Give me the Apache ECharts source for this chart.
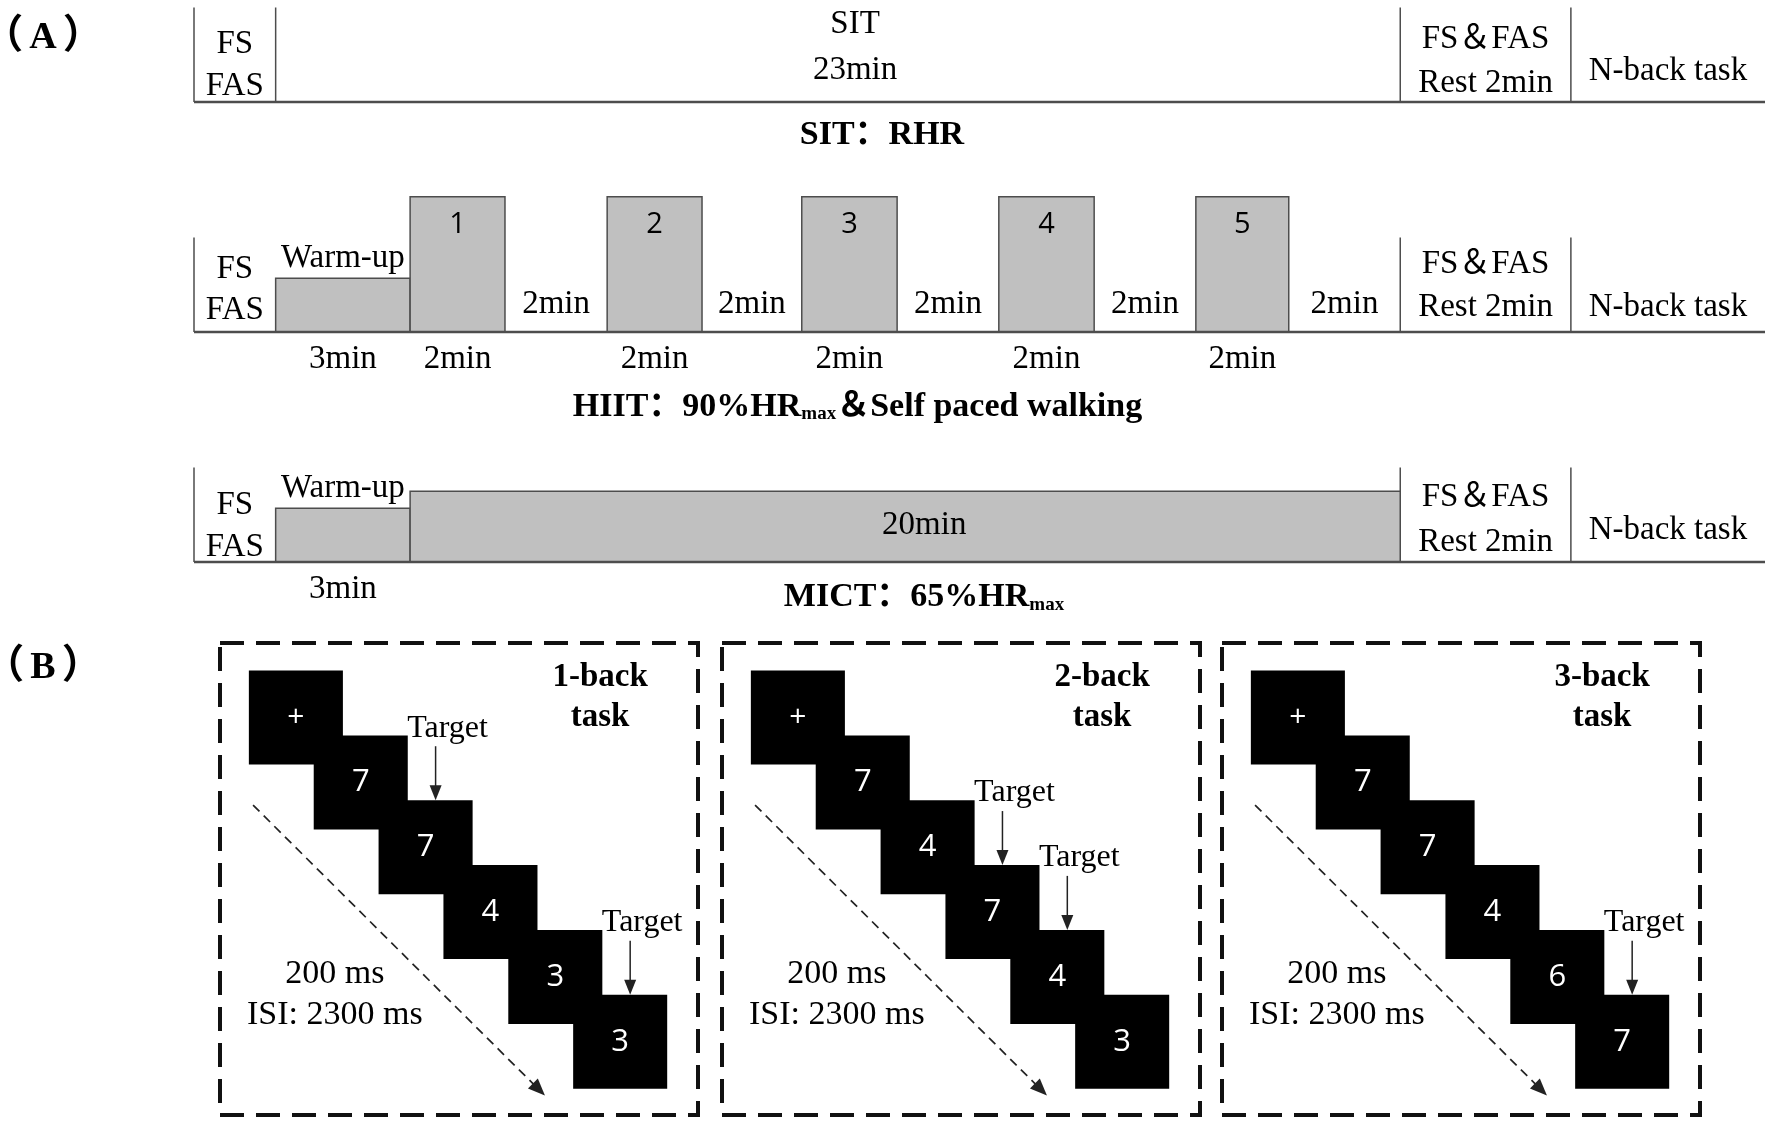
<!DOCTYPE html>
<html>
<head>
<meta charset="utf-8">
<title>Exercise protocol and n-back task</title>
<script src="https://cdn.jsdelivr.net/npm/echarts@6/dist/echarts.min.js"></script>
<style>
  html, body { margin: 0; padding: 0; background: #fff; }
  #main { width: 1772px; height: 1127px; }
</style>
</head>
<body>
<div id="main"></div>
<script>
// ---------- (A) session timelines, x in minutes from start of exercise ----------
var preCell = [-1.67, 0];            // FS / FAS rating before the session
var sitPhase = [0, 23];
var restCell = [23, 26.49];          // FS & FAS, rest 2 min
var nbackCell = [26.49, 30.46];      // N-back task
var warmUp = [0, 2.75];
var hiitBouts = [[2.75, 4.69], [6.78, 8.72], [10.76, 12.71], [14.79, 16.74], [18.82, 20.72]];
var hiitRecovery = [[4.69, 6.78], [8.72, 10.76], [12.71, 14.79], [16.74, 18.82], [20.72, 23]];
var mictBout = [2.75, 23];
var warmUpLevel = 0.57;              // relative intensity (height) of each block
var hiitLevel = 1.43;
var mictLevel = 0.75;
var boutNames = ['1', '2', '3', '4', '5'];
var sitLabels = ['SIT', '23min'];
var warmUpLabels = ['Warm-up', '3min'];
var boutLength = '2min';
var mictLength = '20min';
var preLabels = ['FS', 'FAS'];
var restLabels = ['FS＆FAS', 'Rest 2min'];
var taskLabel = 'N-back task';
var rowTitles = [['SIT：RHR'], ['HIIT：90%HR', 'max', '＆Self paced walking'], ['MICT：65%HR', 'max']];

// ---------- (B) n-back tasks ----------
var nbackNames = ['1-back', '2-back', '3-back'];
var nbackStimuli = [
    ['+', '7', '7', '4', '3', '3'],
    ['+', '7', '4', '7', '4', '3'],
    ['+', '7', '7', '4', '6', '7']
];
var nbackTargets = [[2, 5], [3, 4], [5]];
var timingLabels = ['200 ms', 'ISI: 2300 ms'];

// ---------- layout ----------
var SERIF = "'Liberation Serif', 'Times New Roman', 'Noto Sans CJK SC', serif";
var SANS = "'Open Sans', 'Liberation Sans', sans-serif";
var LINE = '#4d4d4d';
var FILL = '#c0c0c0';
var rowBase = [102, 332, 562];
var LEVEL_PX = 94.5;
var titleX = [12.4, 11.9, 13.26];
var titleY = [-0.32, -0.76, -0.34];
var panelLeft = [220, 722, 1222];
var stepX = [-1.17, 6.2], stepY = [-1.15, 6.13];
var HALF = 0.725;

function mid(r) { return (r[0] + r[1]) / 2; }
function line(x0, y0, x1, y1, o) { return Object.assign({kind: 'line', x0: x0, y0: y0, x1: x1, y1: y1}, o || {}); }
function box(x0, y0, x1, y1, o) { return Object.assign({kind: 'box', x0: x0, y0: y0, x1: x1, y1: y1}, o || {}); }
function text(x, y, t, o) { return Object.assign({kind: 'text', x: x, y: y, text: t}, o || {}); }

function titleText(parts) {
    var s = '{b|' + parts[0] + '}';
    if (parts[1]) s += '{s|' + parts[1] + '}';
    if (parts[2]) s += '{b|' + parts[2] + '}';
    return s;
}
var titleRich = {
    b: {fontSize: 34, fontWeight: 'bold', fontFamily: SERIF, lineHeight: 40, verticalAlign: 'bottom'},
    s: {fontSize: 19, fontWeight: 'bold', fontFamily: SERIF, lineHeight: 24, verticalAlign: 'bottom'}
};

function commonCells(shapes, preY, restY, taskY) {
    shapes.push(text(mid(preCell), preY[0], preLabels[0]), text(mid(preCell), preY[1], preLabels[1]));
    shapes.push(text(mid(restCell), restY[0], restLabels[0]), text(mid(restCell), restY[1], restLabels[1]));
    shapes.push(text(mid(nbackCell), taskY, taskLabel));
}

function rowFrame(shapes, withStartLine) {
    var xs = [preCell[0], restCell[0], restCell[1]];
    if (withStartLine) xs.push(preCell[1]);
    xs.forEach(function (x) { shapes.push(line(x, 0, x, 1, {lw: 1.5})); });
}

// SIT row
var sitShapes = [];
rowFrame(sitShapes, true);
sitShapes.push(text(mid(sitPhase) + 0.35, 0.82, sitLabels[0]), text(mid(sitPhase) + 0.35, 0.34, sitLabels[1]));
commonCells(sitShapes, [0.61, 0.17], [0.66, 0.2], 0.32);
sitShapes.push(line(preCell[0], 0, nbackCell[1], 0, {lw: 2.5}));
sitShapes.push(text(titleX[0], titleY[0], titleText(rowTitles[0]), {rich: titleRich}));

// HIIT row
var hiitShapes = [];
rowFrame(hiitShapes, false);
hiitShapes.push(box(warmUp[0], 0, warmUp[1], warmUpLevel, {fill: FILL, stroke: LINE, lw: 1.5}));
hiitBouts.forEach(function (b, i) {
    hiitShapes.push(box(b[0], 0, b[1], hiitLevel, {fill: FILL, stroke: LINE, lw: 1.5}));
    hiitShapes.push(text(mid(b), hiitLevel - 0.3, boutNames[i], {family: SANS, size: 29}));
    hiitShapes.push(text(mid(b), -0.29, boutLength));
});
hiitRecovery.forEach(function (r) { hiitShapes.push(text(mid(r), 0.29, boutLength)); });
hiitShapes.push(text(mid(warmUp), warmUpLevel + 0.21, warmUpLabels[0]), text(mid(warmUp), -0.29, warmUpLabels[1]));
commonCells(hiitShapes, [0.66, 0.23], [0.72, 0.26], 0.26);
hiitShapes.push(line(preCell[0], 0, nbackCell[1], 0, {lw: 2.5}));
hiitShapes.push(text(titleX[1], titleY[1], titleText(rowTitles[1]), {rich: titleRich}));

// MICT row
var mictShapes = [];
rowFrame(mictShapes, false);
mictShapes.push(box(warmUp[0], 0, warmUp[1], warmUpLevel, {fill: FILL, stroke: LINE, lw: 1.5}));
mictShapes.push(box(mictBout[0], 0, mictBout[1], mictLevel, {fill: FILL, stroke: LINE, lw: 1.5}));
mictShapes.push(text(mid(mictBout) + 0.39, 0.39, mictLength));
mictShapes.push(text(mid(warmUp), warmUpLevel + 0.21, warmUpLabels[0]), text(mid(warmUp), -0.29, warmUpLabels[1]));
commonCells(mictShapes, [0.6, 0.15], [0.68, 0.21], 0.33);
mictShapes.push(line(preCell[0], 0, nbackCell[1], 0, {lw: 2.5}));
mictShapes.push(text(titleX[2], titleY[2], titleText(rowTitles[2]), {rich: titleRich}));

// n-back panels
function panelShapes(j) {
    var s = [];
    s.push(box(stepX[0], stepY[0], stepX[1], stepY[1], {stroke: '#111', lw: 4, dash: [24, 12]}));
    s.push(line(-0.66, 1.35, 3.84, 5.83, {stroke: '#222', lw: 1.7, dash: [9, 6], head: [17, 14]}));
    nbackStimuli[j].forEach(function (v, i) {
        s.push(box(i - HALF, i - HALF, i + HALF, i + HALF, {fill: '#000'}));
        s.push(text(i, i, v, {fill: '#fff', family: SANS, size: v === '+' ? 30 : 31}));
    });
    nbackTargets[j].forEach(function (t) {
        s.push(line(t, t - HALF, t, t - HALF, {ox0: 10, oy0: -54, ox1: 10, oy1: 0, stroke: '#222', lw: 1.5, head: [15, 12]}));
        s.push(text(t, t - HALF, 'Target', {ox: 22, oy: -72, size: 32}));
    });
    s.push(text(4.69, -0.625, nbackNames[j], {weight: 'bold'}), text(4.69, 0, 'task', {weight: 'bold'}));
    s.push(text(0.6, 3.96, timingLabels[0], {size: 34}), text(0.6, 4.59, timingLabels[1], {size: 34}));
    return s;
}

function drawShape(s, api) {
    if (s.kind === 'box') {
        var a = api.coord([s.x0, s.y0]), b = api.coord([s.x1, s.y1]);
        var st = {fill: s.fill || 'none', stroke: s.stroke || 'none', lineWidth: s.lw || 0};
        if (s.dash) st.lineDash = s.dash;
        return {
            type: 'rect',
            shape: {x: Math.min(a[0], b[0]), y: Math.min(a[1], b[1]), width: Math.abs(b[0] - a[0]), height: Math.abs(b[1] - a[1])},
            style: st
        };
    }
    if (s.kind === 'line') {
        var p = api.coord([s.x0, s.y0]), q = api.coord([s.x1, s.y1]);
        var x1 = p[0] + (s.ox0 || 0), y1 = p[1] + (s.oy0 || 0);
        var x2 = q[0] + (s.ox1 || 0), y2 = q[1] + (s.oy1 || 0);
        var color = s.stroke || LINE;
        var ls = {stroke: color, lineWidth: s.lw || 1.5};
        if (s.dash) ls.lineDash = s.dash;
        var kids = [];
        if (s.head) {
            var dx = x2 - x1, dy = y2 - y1, len = Math.sqrt(dx * dx + dy * dy);
            var ux = dx / len, uy = dy / len, L = s.head[0], W = s.head[1] / 2;
            kids.push({type: 'line', shape: {x1: x1, y1: y1, x2: x2 - ux * L * 0.6, y2: y2 - uy * L * 0.6}, style: ls});
            kids.push({
                type: 'polygon',
                shape: {points: [[x2, y2], [x2 - ux * L - uy * W, y2 - uy * L + ux * W], [x2 - ux * L + uy * W, y2 - uy * L - ux * W]]},
                style: {fill: color}
            });
        } else {
            kids.push({type: 'line', shape: {x1: x1, y1: y1, x2: x2, y2: y2}, style: ls});
        }
        return {type: 'group', children: kids};
    }
    var c = api.coord([s.x, s.y]);
    var ts = {
        text: s.text, fill: s.fill || '#000', fontSize: s.size || 33, fontFamily: s.family || SERIF,
        fontWeight: s.weight || 'normal', align: 'center', verticalAlign: 'middle'
    };
    if (s.rich) ts.rich = s.rich;
    return {type: 'text', x: c[0] + (s.ox || 0), y: c[1] + (s.oy || 0), style: ts};
}

function shapeSeries(shapes, gi) {
    return {
        type: 'custom', xAxisIndex: gi, yAxisIndex: gi, clip: false, silent: true,
        data: shapes.map(function (s) { return s.kind === 'text' ? [s.x, s.y] : [s.x0, s.y0]; }),
        renderItem: function (params, api) { return drawShape(shapes[params.dataIndex], api); }
    };
}

var grids = [], xAxes = [], yAxes = [], series = [];
[sitShapes, hiitShapes, mictShapes].forEach(function (shapes, i) {
    grids.push({left: 194, top: rowBase[i] - LEVEL_PX, width: 1571, height: LEVEL_PX});
    xAxes.push({type: 'value', gridIndex: i, min: preCell[0], max: nbackCell[1], show: false});
    yAxes.push({type: 'value', gridIndex: i, min: 0, max: 1, show: false});
    series.push(shapeSeries(shapes, i));
});
panelLeft.forEach(function (left, j) {
    var gi = 3 + j;
    grids.push({left: left, top: 643, width: 478, height: 472});
    xAxes.push({type: 'value', gridIndex: gi, min: stepX[0], max: stepX[1], show: false});
    yAxes.push({type: 'value', gridIndex: gi, min: stepY[0], max: stepY[1], inverse: true, show: false});
    series.push(shapeSeries(panelShapes(j), gi));
});

var letterRich = {
    p: {fontSize: 40, fontWeight: 'bold', fontFamily: SERIF, lineHeight: 44},
    a: {fontSize: 38, fontWeight: 'bold', fontFamily: SERIF, lineHeight: 44, padding: [0, 6, 0, 6]}
};
function panelLetter(letter, y) {
    return {type: 'text', x: 43, y: y, style: {text: '{p|（}{a|' + letter + '}{p|）}', rich: letterRich, fill: '#000', align: 'center', verticalAlign: 'middle'}};
}

var chart = echarts.init(document.getElementById('main'));
chart.setOption({
    backgroundColor: '#fff',
    animation: false,
    grid: grids,
    xAxis: xAxes,
    yAxis: yAxes,
    graphic: [panelLetter('A', 38), panelLetter('B', 668)],
    series: series
});
</script>
</body>
</html>
